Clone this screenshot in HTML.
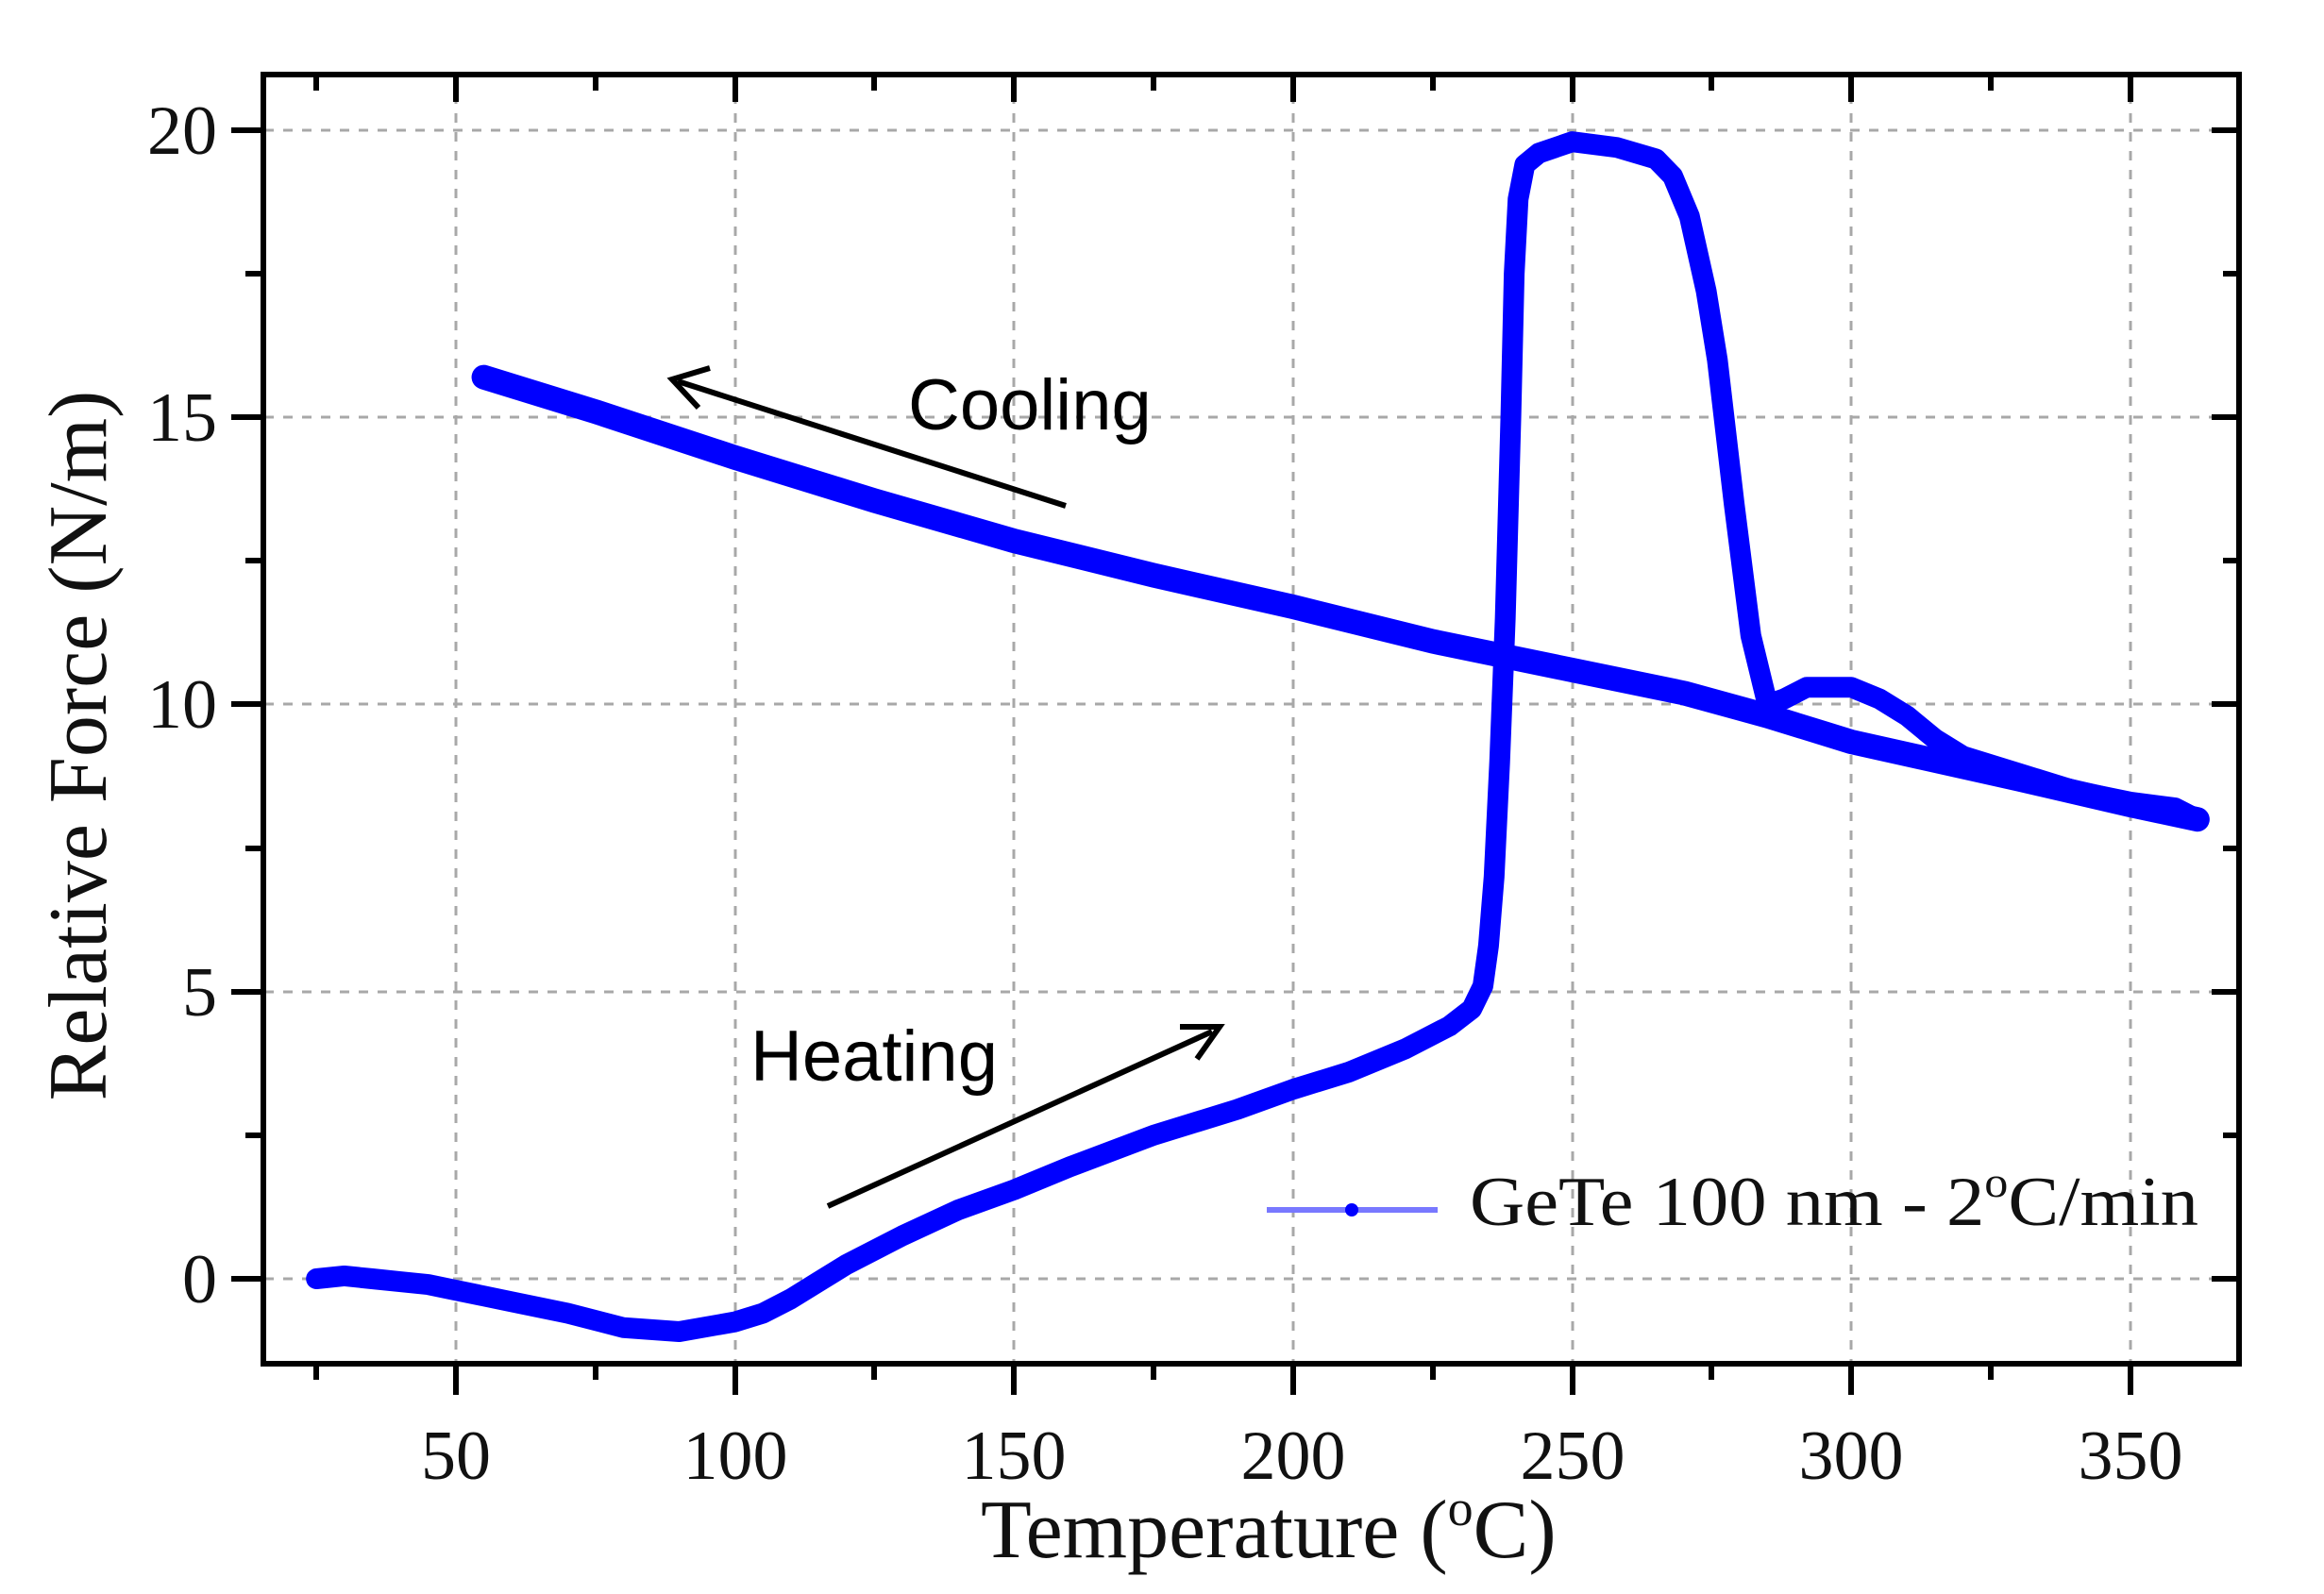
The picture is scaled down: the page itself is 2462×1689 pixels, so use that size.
<!DOCTYPE html>
<html><head><meta charset="utf-8"><style>
html,body{margin:0;padding:0;background:#fff;}
svg{display:block;}
</style></head><body>
<svg width="2462" height="1689" viewBox="0 0 2462 1689" xmlns="http://www.w3.org/2000/svg">
<rect width="2462" height="1689" fill="#fff"/>
<!-- grid -->
<g stroke="#a8a8a8" stroke-width="3" stroke-dasharray="10,10">
<line x1="483" y1="80" x2="483" y2="1444"/>
<line x1="779" y1="80" x2="779" y2="1444"/>
<line x1="1074" y1="80" x2="1074" y2="1444"/>
<line x1="1370" y1="80" x2="1370" y2="1444"/>
<line x1="1666" y1="80" x2="1666" y2="1444"/>
<line x1="1961" y1="80" x2="1961" y2="1444"/>
<line x1="2257" y1="80" x2="2257" y2="1444"/>
<line x1="280" y1="138" x2="2370" y2="138"/>
<line x1="280" y1="442" x2="2370" y2="442"/>
<line x1="280" y1="746" x2="2370" y2="746"/>
<line x1="280" y1="1051" x2="2370" y2="1051"/>
<line x1="280" y1="1355" x2="2370" y2="1355"/>
</g>
<!-- data -->
<g transform="matrix(5.913 0 0 -60.85 187.35 1355)" fill="none" stroke="#0000ff" stroke-linejoin="round" stroke-linecap="round">
<polyline vector-effect="non-scaling-stroke" stroke-width="22" points="25,0 30,0.05 35,0 40,-0.05 45,-0.1 50,-0.2 55,-0.3 60,-0.4 70,-0.6 80,-0.85 90,-0.92 100,-0.75 105,-0.6 110,-0.35 115,-0.05 120,0.25 130,0.75 140,1.2 150,1.55 160,1.95 175,2.5 190,2.95 200,3.3 210,3.6 220,4.0 228,4.4 232,4.7 234,5.1 235,5.8 236,7 237,9 238,11.5 239,15 239.6,17.5 240.3,18.8 241.5,19.4 244,19.6 250,19.8 258,19.7 265,19.5 268,19.2 271,18.5 274,17.2 276,16 279,13.5 282,11.2 285,10.0 288,10.1 292,10.3 300,10.3 305,10.1 310,9.8 315,9.4 320,9.1 330,8.8 340,8.5 350,8.3 358,8.2 362,8.0"/>
<polyline vector-effect="non-scaling-stroke" stroke-width="26" points="362,8.0 350,8.25 330,8.7 300,9.35 285,9.8 270,10.2 250,10.6 225,11.1 200,11.7 175,12.25 150,12.85 125,13.55 100,14.3 75,15.1 55,15.7"/>
</g>
<!-- arrows -->
<g stroke="#000" stroke-width="6" fill="none">
<line x1="1129" y1="536" x2="718" y2="404"/>
<polyline points="752,390 712,402 740,432"/>
<line x1="877" y1="1278" x2="1284" y2="1093"/>
<polyline points="1250,1088 1292,1088 1268,1122"/>
</g>
<text x="962" y="455" font-family="Liberation Sans, sans-serif" font-size="76" fill="#000">Cooling</text>
<text x="795" y="1145" font-family="Liberation Sans, sans-serif" font-size="76" fill="#000">Heating</text>
<!-- legend -->
<line x1="1342" y1="1282" x2="1523" y2="1282" stroke="#7878ff" stroke-width="6"/>
<circle cx="1432" cy="1282" r="7" fill="#0000ff"/>
<text x="1557" y="1298" font-family="Liberation Serif, serif" font-size="74" fill="#111" textLength="772" lengthAdjust="spacingAndGlyphs">GeTe 100 nm - 2<tspan dy="-30" font-size="46">o</tspan><tspan dy="30">C/min</tspan></text>
<!-- axes frame -->
<rect x="279" y="79" width="2093" height="1366" fill="none" stroke="#000" stroke-width="6"/>
<!-- ticks -->
<g stroke="#000" stroke-width="6">
<line x1="335" y1="1445" x2="335" y2="1462"/>
<line x1="483" y1="1445" x2="483" y2="1478"/>
<line x1="631" y1="1445" x2="631" y2="1462"/>
<line x1="779" y1="1445" x2="779" y2="1478"/>
<line x1="926" y1="1445" x2="926" y2="1462"/>
<line x1="1074" y1="1445" x2="1074" y2="1478"/>
<line x1="1222" y1="1445" x2="1222" y2="1462"/>
<line x1="1370" y1="1445" x2="1370" y2="1478"/>
<line x1="1518" y1="1445" x2="1518" y2="1462"/>
<line x1="1666" y1="1445" x2="1666" y2="1478"/>
<line x1="1813" y1="1445" x2="1813" y2="1462"/>
<line x1="1961" y1="1445" x2="1961" y2="1478"/>
<line x1="2109" y1="1445" x2="2109" y2="1462"/>
<line x1="2257" y1="1445" x2="2257" y2="1478"/>
<line x1="335" y1="79" x2="335" y2="96"/>
<line x1="483" y1="79" x2="483" y2="108"/>
<line x1="631" y1="79" x2="631" y2="96"/>
<line x1="779" y1="79" x2="779" y2="108"/>
<line x1="926" y1="79" x2="926" y2="96"/>
<line x1="1074" y1="79" x2="1074" y2="108"/>
<line x1="1222" y1="79" x2="1222" y2="96"/>
<line x1="1370" y1="79" x2="1370" y2="108"/>
<line x1="1518" y1="79" x2="1518" y2="96"/>
<line x1="1666" y1="79" x2="1666" y2="108"/>
<line x1="1813" y1="79" x2="1813" y2="96"/>
<line x1="1961" y1="79" x2="1961" y2="108"/>
<line x1="2109" y1="79" x2="2109" y2="96"/>
<line x1="2257" y1="79" x2="2257" y2="108"/>
<line x1="245" y1="138" x2="279" y2="138"/>
<line x1="260" y1="290" x2="279" y2="290"/>
<line x1="245" y1="442" x2="279" y2="442"/>
<line x1="260" y1="594" x2="279" y2="594"/>
<line x1="245" y1="746" x2="279" y2="746"/>
<line x1="260" y1="899" x2="279" y2="899"/>
<line x1="245" y1="1051" x2="279" y2="1051"/>
<line x1="260" y1="1203" x2="279" y2="1203"/>
<line x1="245" y1="1355" x2="279" y2="1355"/>
<line x1="2343" y1="138" x2="2372" y2="138"/>
<line x1="2355" y1="290" x2="2372" y2="290"/>
<line x1="2343" y1="442" x2="2372" y2="442"/>
<line x1="2355" y1="594" x2="2372" y2="594"/>
<line x1="2343" y1="746" x2="2372" y2="746"/>
<line x1="2355" y1="899" x2="2372" y2="899"/>
<line x1="2343" y1="1051" x2="2372" y2="1051"/>
<line x1="2355" y1="1203" x2="2372" y2="1203"/>
<line x1="2343" y1="1355" x2="2372" y2="1355"/>
</g>
<!-- tick labels -->
<g font-family="Liberation Serif, serif" font-size="74" fill="#111" text-anchor="middle">
<text x="483" y="1567">50</text>
<text x="779" y="1567">100</text>
<text x="1074" y="1567">150</text>
<text x="1370" y="1567">200</text>
<text x="1666" y="1567">250</text>
<text x="1961" y="1567">300</text>
<text x="2257" y="1567">350</text>
</g>
<g font-family="Liberation Serif, serif" font-size="74" fill="#111" text-anchor="end">
<text x="230" y="163">20</text>
<text x="230" y="467">15</text>
<text x="230" y="771">10</text>
<text x="230" y="1076">5</text>
<text x="230" y="1380">0</text>
</g>
<!-- axis titles -->
<text x="1039" y="1650" font-family="Liberation Serif, serif" font-size="88" fill="#111">Temperature (<tspan dy="-34" font-size="54">o</tspan><tspan dy="34">C)</tspan></text>
<text transform="translate(112,790) rotate(-90)" text-anchor="middle" font-family="Liberation Serif, serif" font-size="88" fill="#111">Relative Force (N/m)</text>
</svg>
</body></html>
